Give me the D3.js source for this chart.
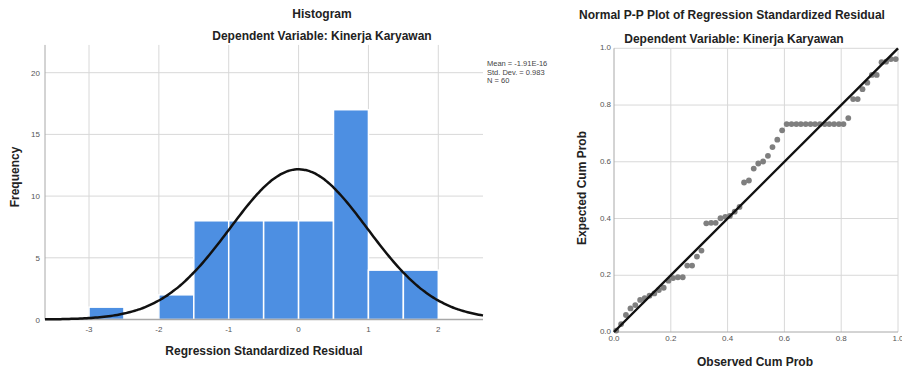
<!DOCTYPE html>
<html lang="en">
<head>
<meta charset="UTF-8">
<title>Histogram and P-P plot</title>
<script src="https://d3js.org/d3.v7.min.js"></script>
<style>
  body { margin: 0; background: #fff; font-family: Arial, "Liberation Sans", sans-serif; }
  text { fill: #222; }
  .tick-label { font-size: 8px; fill: #555; }
  .ttl { font-size: 12px; font-weight: bold; }
</style>
</head>
<body>
<svg id="chart" width="902" height="372"></svg>
<script>
// histogram data
const binStart = [-3, -2.5, -2, -1.5, -1, -0.5, 0, 0.5, 1, 1.5];
const freq = [1, 0, 2, 8, 8, 8, 8, 17, 4, 4];
const binWidth = 0.5;
const histXTicks = [-3, -2, -1, 0, 1, 2];
const histYTicks = [0, 5, 10, 15, 20];
const statMean = -1.91e-16;
const statSd = 0.983;
const statN = 60;
const statLines = ["Mean = -1.91E-16", "Std. Dev. = 0.983", "N = 60"];

// P-P plot data
const observedCum = [0.008, 0.025, 0.042, 0.058, 0.075, 0.092, 0.108, 0.125, 0.142, 0.158,
  0.175, 0.192, 0.208, 0.225, 0.242, 0.258, 0.275, 0.292, 0.308, 0.325,
  0.342, 0.358, 0.375, 0.392, 0.408, 0.425, 0.442, 0.458, 0.475, 0.492,
  0.508, 0.525, 0.542, 0.558, 0.575, 0.592, 0.608, 0.625, 0.642, 0.658,
  0.675, 0.692, 0.708, 0.725, 0.742, 0.758, 0.775, 0.792, 0.808, 0.825,
  0.842, 0.858, 0.875, 0.892, 0.908, 0.925, 0.942, 0.958, 0.975, 0.992];
const expectedCum = [0.005, 0.028, 0.060, 0.083, 0.095, 0.113, 0.119, 0.128, 0.136, 0.148,
  0.156, 0.181, 0.190, 0.193, 0.193, 0.234, 0.234, 0.266, 0.287, 0.383,
  0.385, 0.385, 0.401, 0.406, 0.409, 0.424, 0.441, 0.527, 0.534, 0.576,
  0.594, 0.601, 0.621, 0.652, 0.678, 0.711, 0.733, 0.733, 0.733, 0.733,
  0.733, 0.733, 0.733, 0.733, 0.733, 0.733, 0.733, 0.733, 0.733, 0.754,
  0.821, 0.821, 0.856, 0.879, 0.906, 0.906, 0.951, 0.953, 0.962, 0.962];
const ppTicks = [0, 0.2, 0.4, 0.6, 0.8, 1.0];

const svg = d3.select("#chart");
const gridColor = "#d8d8d8";
const axisColor = "#a8a8a8";

// ---------- Histogram ----------
const hx = d3.scaleLinear().domain([-3.63, 2.64]).range([45, 483]);
const hy = d3.scaleLinear().domain([0, 20]).range([319.5, 72.7]);
const hTop = hy(22.25);

const hg = svg.append("g");

hg.selectAll(".vgrid").data(histXTicks).enter().append("line")
  .attr("x1", d => hx(d)).attr("x2", d => hx(d))
  .attr("y1", hTop).attr("y2", hy(0))
  .attr("stroke", gridColor).attr("stroke-width", 1);
hg.selectAll(".hgrid").data(histYTicks.slice(1)).enter().append("line")
  .attr("x1", hx.range()[0]).attr("x2", hx.range()[1])
  .attr("y1", d => hy(d)).attr("y2", d => hy(d))
  .attr("stroke", gridColor).attr("stroke-width", 1);

hg.selectAll(".bar").data(binStart.map((b, i) => ({ b, f: freq[i] })).filter(d => d.f > 0))
  .enter().append("rect")
  .attr("x", d => hx(d.b))
  .attr("width", d => hx(d.b + binWidth) - hx(d.b))
  .attr("y", d => hy(d.f))
  .attr("height", d => hy(0) - hy(d.f))
  .attr("fill", "#4d8fe2")
  .attr("stroke", "#fff").attr("stroke-width", 1.5);

// axis lines
hg.append("line").attr("x1", hx.range()[0]).attr("x2", hx.range()[0])
  .attr("y1", hTop).attr("y2", hy(0)).attr("stroke", axisColor);
hg.append("line").attr("x1", hx.range()[0]).attr("x2", hx.range()[1])
  .attr("y1", hy(0)).attr("y2", hy(0)).attr("stroke", axisColor).attr("stroke-width", 1.5);

// normal curve from mean / sd / N
const curvePts = d3.range(0, 201).map(i => {
  const x = hx.domain()[0] + (hx.domain()[1] - hx.domain()[0]) * i / 200;
  const z = (x - statMean) / statSd;
  return [x, statN * binWidth * Math.exp(-0.5 * z * z) / (Math.sqrt(2 * Math.PI) * statSd)];
});
hg.append("path").datum(curvePts)
  .attr("d", d3.line().x(d => hx(d[0])).y(d => hy(d[1])).curve(d3.curveBasis))
  .attr("fill", "none").attr("stroke", "#111").attr("stroke-width", 2.5);

hg.selectAll(".xt").data(histXTicks).enter().append("text")
  .attr("class", "tick-label").attr("x", d => hx(d)).attr("y", 332)
  .attr("text-anchor", "middle").text(d => d);
hg.selectAll(".yt").data(histYTicks).enter().append("text")
  .attr("class", "tick-label").attr("x", 40).attr("y", d => hy(d) + 3)
  .attr("text-anchor", "end").text(d => d);

hg.append("text").attr("class", "ttl").attr("x", 322).attr("y", 18)
  .attr("text-anchor", "middle").text("Histogram");
hg.append("text").attr("class", "ttl").attr("x", 322).attr("y", 40)
  .attr("text-anchor", "middle").text("Dependent Variable: Kinerja Karyawan");
hg.append("text").attr("class", "ttl").attr("x", 264).attr("y", 355)
  .attr("text-anchor", "middle").text("Regression Standardized Residual");
hg.append("text").attr("class", "ttl")
  .attr("transform", "translate(19,177) rotate(-90)")
  .attr("text-anchor", "middle").text("Frequency");

hg.selectAll(".stat").data(statLines).enter().append("text")
  .attr("x", 487).attr("y", (d, i) => 66 + i * 8.5)
  .style("font-size", "7.5px").style("fill", "#444").text(d => d);

// ---------- P-P plot ----------
const px = d3.scaleLinear().domain([0, 1]).range([614, 898]);
const py = d3.scaleLinear().domain([0, 1]).range([332, 48.3]);
const pg = svg.append("g");

pg.selectAll(".vg").data(ppTicks.slice(1)).enter().append("line")
  .attr("x1", d => px(d)).attr("x2", d => px(d))
  .attr("y1", py(1)).attr("y2", py(0))
  .attr("stroke", gridColor);
pg.selectAll(".hg").data(ppTicks.slice(1)).enter().append("line")
  .attr("x1", px(0)).attr("x2", px(1))
  .attr("y1", d => py(d)).attr("y2", d => py(d))
  .attr("stroke", gridColor);
pg.append("line").attr("x1", px(0)).attr("x2", px(0))
  .attr("y1", py(1)).attr("y2", py(0)).attr("stroke", axisColor);
pg.append("line").attr("x1", px(0)).attr("x2", px(1))
  .attr("y1", py(0)).attr("y2", py(0)).attr("stroke", axisColor);

pg.selectAll(".dot").data(observedCum.map((o, i) => [o, expectedCum[i]]))
  .enter().append("circle")
  .attr("cx", d => px(d[0])).attr("cy", d => py(d[1])).attr("r", 2.9)
  .attr("fill", "#7f7f7f");

pg.append("line").attr("x1", px(0)).attr("y1", py(0)).attr("x2", px(1)).attr("y2", py(1))
  .attr("stroke", "#111").attr("stroke-width", 2.4);

pg.selectAll(".xt").data(ppTicks).enter().append("text")
  .attr("class", "tick-label").attr("x", d => px(d)).attr("y", 341)
  .attr("text-anchor", "middle").text(d => d.toFixed(1));
pg.selectAll(".yt").data(ppTicks).enter().append("text")
  .attr("class", "tick-label").attr("x", 611).attr("y", d => py(d) + 2)
  .attr("text-anchor", "end").text(d => d.toFixed(1));

pg.append("text").attr("class", "ttl").attr("x", 732).attr("y", 19)
  .attr("text-anchor", "middle").text("Normal P-P Plot of Regression Standardized Residual");
pg.append("text").attr("class", "ttl").attr("x", 734).attr("y", 43)
  .attr("text-anchor", "middle").text("Dependent Variable: Kinerja Karyawan");
pg.append("text").attr("class", "ttl").attr("x", 755).attr("y", 366)
  .attr("text-anchor", "middle").text("Observed Cum Prob");
pg.append("text").attr("class", "ttl")
  .attr("transform", "translate(586,188) rotate(-90)")
  .attr("text-anchor", "middle").text("Expected Cum Prob");
</script>
</body>
</html>
